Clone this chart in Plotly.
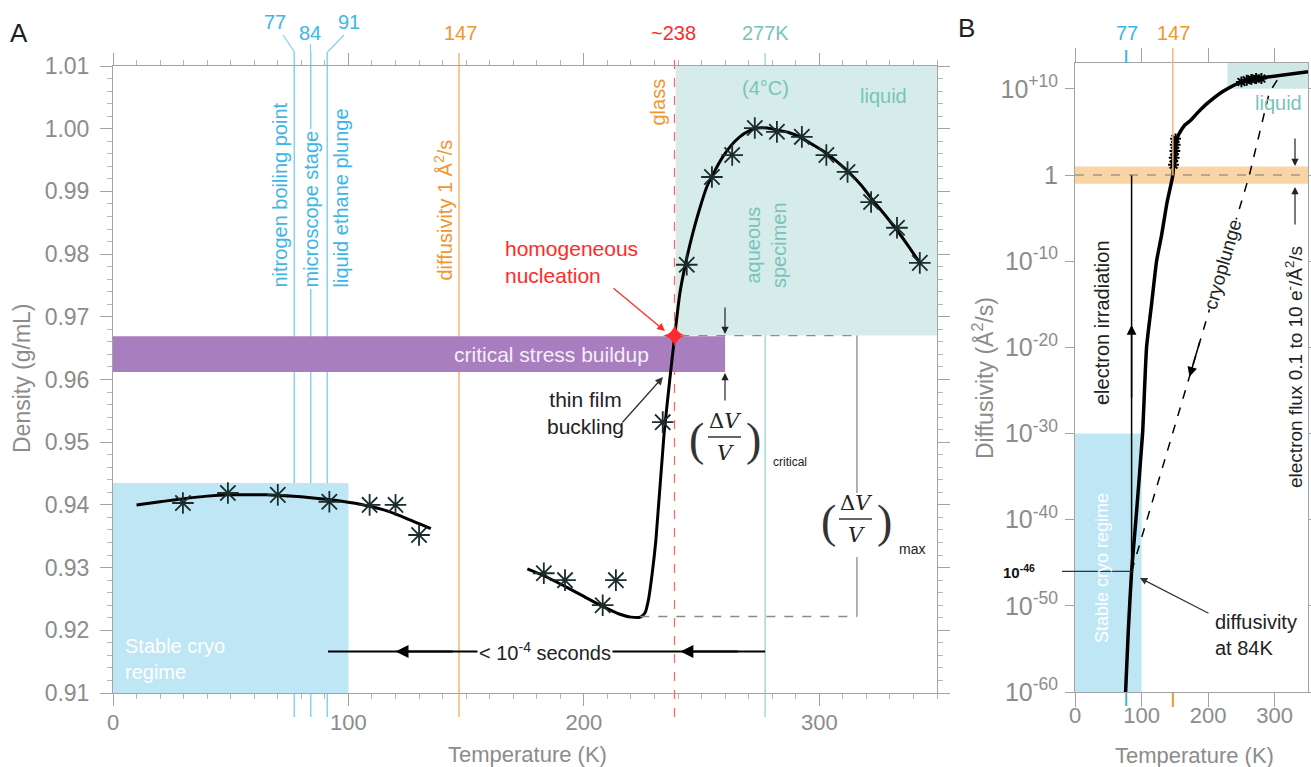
import plotly.graph_objects as go

W, H = 1311, 767

# ---------------- DATA ----------------
# Panel A: density vs temperature
a_left_T = [10, 20, 28, 40, 50, 65, 75, 85, 95, 105, 115, 123, 130, 135]
a_left_rho = [0.9400, 0.9405, 0.9409, 0.9414, 0.9416, 0.9416, 0.9414, 0.9411, 0.9407,
              0.9401, 0.9392, 0.9381, 0.9370, 0.9362]
a_left_mark_T = [29.7, 48.8, 70, 91.9, 109, 120, 130]
a_left_mark_rho = [0.9403, 0.9419, 0.9416, 0.9405, 0.9400, 0.9400, 0.9352]

a_right_T = [176, 183, 192, 200, 208, 215, 220, 224, 226, 227.5, 229, 230.6, 234, 236.5,
             238.6, 240.8, 243.5, 246.3, 249, 252.2, 255.5, 259, 262.5, 266.2, 270, 273.5,
             278, 282, 287, 291.7, 297, 303, 308, 313, 318, 322.7, 328, 333, 338, 342.7]
a_right_rho = [0.9298, 0.9287, 0.9270, 0.9254, 0.9238, 0.9226, 0.9221, 0.9221, 0.9228,
               0.9250, 0.9290, 0.9344, 0.9510, 0.9600, 0.9670, 0.9738, 0.9790, 0.9834,
               0.9870, 0.9907, 0.9932, 0.9955, 0.9973, 0.9987, 0.9996, 1.0001, 1.0001,
               0.9998, 0.9994, 0.9987, 0.9975, 0.9961, 0.9946, 0.9929, 0.9909, 0.9886,
               0.9862, 0.9838, 0.9812, 0.9786]
a_right_mark_T = [183, 192, 208, 213.6, 233.5, 243.7, 254.4, 263, 272.6, 282, 292.6, 303,
                  312, 322, 333, 342.7]
a_right_mark_rho = [0.9291, 0.9280, 0.9240, 0.9280, 0.9532, 0.9783, 0.9923, 0.9958, 1.0001,
                    0.9995, 0.9987, 0.9958, 0.9931, 0.9883, 0.9842, 0.9786]
nucleation_T = [238.6]
nucleation_rho = [0.967]

blue_T = [77, 84, 91]
blue_labels = ["77", "84", "91"]
T_diff1 = 147
T_glass = 238.5
T_4C = 277
stress_T_max = 260
stress_rho = [0.9612, 0.9669]
cryo_rect = [0, 100, 0.91, 0.9435]
liquid_rect_A = [239, 350, 0.967, 1.01]
dv_crit_rho = 0.967
dv_min_rho = 0.9222
dv_T = 316
seconds_T = [91.3, 277]
seconds_rho = 0.9166

# Panel B: diffusivity (log10 of A^2/s) vs temperature
b_curve_T = [76, 80, 85, 91.5, 101.5, 107.5, 115, 122.5, 130, 138, 147, 149, 151, 154, 158,
             165, 173, 185, 200, 222, 252, 292, 350]
b_curve_logD = [-60, -53, -46, -40, -30, -20, -15, -10, -7, -3.3, 0, 2.2, 3.5, 4.4, 5.0,
                5.8, 6.3, 7.3, 8.4, 9.7, 10.9, 11.4, 12.0]
b_mark_T = [148, 149, 150, 150.5, 151, 250, 258, 265, 272, 280]
b_mark_logD = [1.2, 2.0, 2.8, 3.5, 4.2, 10.8, 11.0, 11.1, 11.2, 11.2]
cryo_T = [85, 172, 262, 292, 307]
cryo_logD = [-46, -23.4, 0, 9.6, 11.4]
irr_T = [85, 85]
irr_logD = [-46, 0]
b_ytick_vals = [-60, -50, -40, -30, -20, -10, 0, 10]
b_ytick_text = ["10<sup>-60</sup>", "10<sup>-50</sup>", "10<sup>-40</sup>", "10<sup>-30</sup>",
                "10<sup>-20</sup>", "10<sup>-10</sup>", "1", "10<sup>+10</sup>"]
b_xtick_vals = [0, 100, 200, 300]

# ---------------- helpers ----------------
def PX(x):
    return x / W

def PY(y):
    return 1 - y / H

FONT = "Liberation Sans, Arial, sans-serif"
SERIF = "DejaVu Serif, serif"
GRAY = "#a3a3a3"
TICKC = "#8c8c8c"
BLUE = "#3db6e6"
BLUE_L = "#86d3f0"
ORANGE = "#f0962e"
ORANGE_L = "#f5b772"
RED = "#ff2b2b"
TEAL = "#78c4ba"
TEAL_L = "#a6d9d2"
MARK = "#1c2b2b"

fig = go.Figure()

# Panel A traces
fig.add_trace(go.Scatter(x=a_left_T, y=a_left_rho, mode="lines", line=dict(color="black", width=3, shape="spline"),
                         xaxis="x", yaxis="y", hoverinfo="skip"))
fig.add_trace(go.Scatter(x=a_right_T, y=a_right_rho, mode="lines", line=dict(color="black", width=3, shape="spline", smoothing=0.6),
                         xaxis="x", yaxis="y", hoverinfo="skip"))
fig.add_trace(go.Scatter(x=a_left_mark_T + a_right_mark_T, y=a_left_mark_rho + a_right_mark_rho, mode="markers",
                         marker=dict(symbol="asterisk-open", size=18, color=MARK, line=dict(color=MARK, width=1.8)),
                         xaxis="x", yaxis="y", hoverinfo="skip"))
fig.add_trace(go.Scatter(x=nucleation_T, y=nucleation_rho, mode="markers",
                         marker=dict(symbol="star-diamond", size=16, color=RED),
                         xaxis="x", yaxis="y", hoverinfo="skip"))

# Panel B traces
fig.add_trace(go.Scatter(x=irr_T, y=irr_logD, mode="lines", line=dict(color="black", width=1.5),
                         xaxis="x2", yaxis="y2", hoverinfo="skip"))
fig.add_trace(go.Scatter(x=cryo_T, y=cryo_logD, mode="lines", line=dict(color="black", width=1.5, dash="dash"),
                         xaxis="x2", yaxis="y2", hoverinfo="skip"))
fig.add_trace(go.Scatter(x=b_curve_T, y=b_curve_logD, mode="lines", line=dict(color="black", width=3.5, shape="spline", smoothing=0.5),
                         xaxis="x2", yaxis="y2", hoverinfo="skip"))
fig.add_trace(go.Scatter(x=b_mark_T, y=b_mark_logD, mode="markers",
                         marker=dict(symbol="asterisk-open", size=9, color="black", line=dict(color="black", width=2)),
                         xaxis="x2", yaxis="y2", hoverinfo="skip"))

shapes = []
# ---- Panel A shapes ----
shapes.append(dict(type="rect", xref="x", yref="y", x0=cryo_rect[0], x1=cryo_rect[1], y0=cryo_rect[2], y1=cryo_rect[3],
                   fillcolor="#bee6f5", line=dict(width=0), layer="below"))
shapes.append(dict(type="rect", xref="x", yref="y", x0=liquid_rect_A[0], x1=liquid_rect_A[1], y0=liquid_rect_A[2], y1=liquid_rect_A[3],
                   fillcolor="#d6ecea", line=dict(width=0), layer="below"))
for T in blue_T:
    shapes.append(dict(type="line", xref="x", yref="paper", x0=T, x1=T, y0=PY(717), y1=PY(52),
                       line=dict(color=BLUE_L, width=1.5), layer="below"))
shapes.append(dict(type="line", xref="x", yref="paper", x0=T_diff1, x1=T_diff1, y0=PY(717), y1=PY(53),
                   line=dict(color=ORANGE_L, width=1.5), layer="below"))
shapes.append(dict(type="line", xref="x", yref="paper", x0=T_glass, x1=T_glass, y0=PY(717), y1=PY(52),
                   line=dict(color="#ff6060", width=1.2, dash="dash"), layer="below"))
shapes.append(dict(type="line", xref="x", yref="paper", x0=T_4C, x1=T_4C, y0=PY(717), y1=PY(53),
                   line=dict(color=TEAL_L, width=1.5), layer="below"))
# label connectors
shapes.append(dict(type="line", xref="paper", yref="paper", x0=PX(283), y0=PY(35), x1=PX(294.5), y1=PY(52),
                   line=dict(color=BLUE_L, width=1.3)))
shapes.append(dict(type="line", xref="paper", yref="paper", x0=PX(310.5), y0=PY(44), x1=PX(310.5), y1=PY(53),
                   line=dict(color=BLUE_L, width=1.3)))
shapes.append(dict(type="line", xref="paper", yref="paper", x0=PX(344), y0=PY(35), x1=PX(327.5), y1=PY(52),
                   line=dict(color=BLUE_L, width=1.3)))
# purple stress bar (drawn over the vertical lines)
shapes.append(dict(type="rect", xref="x", yref="y", x0=0, x1=stress_T_max, y0=stress_rho[0], y1=stress_rho[1],
                   fillcolor="#a97ebf", line=dict(width=0), layer="below"))
# dV/V guide lines
shapes.append(dict(type="line", xref="x", yref="y", x0=241, x1=dv_T, y0=dv_crit_rho, y1=dv_crit_rho,
                   line=dict(color="#8a8a8a", width=1.3, dash="dash")))
shapes.append(dict(type="line", xref="x", yref="y", x0=224, x1=dv_T, y0=dv_min_rho, y1=dv_min_rho,
                   line=dict(color="#8a8a8a", width=1.3, dash="dash")))
shapes.append(dict(type="line", xref="x", yref="y", x0=dv_T, x1=dv_T, y0=dv_crit_rho, y1=0.9419,
                   line=dict(color="#8a8a8a", width=1.3)))
shapes.append(dict(type="line", xref="x", yref="y", x0=dv_T, x1=dv_T, y0=0.9317, y1=dv_min_rho,
                   line=dict(color="#8a8a8a", width=1.3)))
# < 1e-4 s line
shapes.append(dict(type="line", xref="x", yref="y", x0=seconds_T[0], x1=seconds_T[1], y0=seconds_rho, y1=seconds_rho,
                   line=dict(color="black", width=2)))
# fraction bars
shapes.append(dict(type="line", xref="paper", yref="paper", x0=PX(708), x1=PX(741), y0=PY(437), y1=PY(437),
                   line=dict(color="#333", width=1.4)))
shapes.append(dict(type="line", xref="paper", yref="paper", x0=PX(839), x1=PX(872), y0=PY(519), y1=PY(519),
                   line=dict(color="#333", width=1.4)))

# ---- Panel B shapes ----
shapes.append(dict(type="rect", xref="x2", yref="y2", x0=0, x1=100, y0=-60, y1=-30,
                   fillcolor="#bee6f5", line=dict(width=0), layer="below"))
shapes.append(dict(type="rect", xref="x2", yref="y2", x0=229, x1=350, y0=10, y1=13,
                   fillcolor="#cfe8e5", line=dict(width=0), layer="below"))
shapes.append(dict(type="rect", xref="x2", yref="y2", x0=0, x1=350, y0=-1, y1=1,
                   fillcolor="#f9d5a5", line=dict(width=0), layer="below"))
shapes.append(dict(type="line", xref="x2", yref="y2", x0=0, x1=350, y0=0, y1=0,
                   line=dict(color="#777", width=1.2, dash="dash")))
shapes.append(dict(type="line", xref="x2", yref="paper", x0=T_diff1, x1=T_diff1, y0=PY(48), y1=PY(175),
                   line=dict(color=ORANGE_L, width=1.5)))
shapes.append(dict(type="line", xref="x2", yref="paper", x0=T_diff1, x1=T_diff1, y0=PY(693), y1=PY(707),
                   line=dict(color=ORANGE, width=2)))
shapes.append(dict(type="line", xref="x2", yref="paper", x0=77, x1=77, y0=PY(50), y1=PY(63),
                   line=dict(color=BLUE, width=2)))
shapes.append(dict(type="line", xref="x2", yref="paper", x0=77, x1=77, y0=PY(693), y1=PY(706),
                   line=dict(color=BLUE, width=2)))
shapes.append(dict(type="line", xref="paper", yref="y2", x0=PX(1062), x1=PX(1075 + 85 * 233 / 350), y0=-46, y1=-46,
                   line=dict(color="#333", width=1.2)))

ann = []
def txt(x, y, s, size=20, color="#222", **kw):
    d = dict(x=PX(x), y=PY(y), xref="paper", yref="paper", text=s, showarrow=False,
             xanchor=kw.pop("xanchor", "center"), yanchor=kw.pop("yanchor", "middle"),
             font=dict(size=size, color=color, family=kw.pop("family", FONT)))
    d.update(kw)
    ann.append(d)

def arrow(tx, ty, fx, fy, color="#222", width=1.3, head=2, size=1.2):
    ann.append(dict(x=PX(tx), y=PY(ty), xref="paper", yref="paper", ax=fx - tx, ay=fy - ty,
                    text="", showarrow=True, arrowhead=head, arrowsize=size, arrowwidth=width,
                    arrowcolor=color))

# panel letters
txt(19, 33, "A", size=26, color="#222")
txt(966, 28, "B", size=26, color="#222")

# Panel A top labels
txt(275, 22, blue_labels[0], size=20, color=BLUE)
txt(310, 33, blue_labels[1], size=20, color=BLUE)
txt(349, 22, blue_labels[2], size=20, color=BLUE)
txt(460, 33, "147", size=20, color=ORANGE)
txt(673, 33, "~238", size=20, color=RED)
txt(765, 33, "277K", size=20, color=TEAL)

# rotated labels
txt(279, 290, "nitrogen boiling point", size=20, color=BLUE, textangle=-90, yanchor="bottom")
txt(310, 290, "microscope stage", size=20, color=BLUE, textangle=-90, yanchor="bottom",
    bgcolor="white", borderpad=1)
txt(340, 290, "liquid ethane plunge", size=20, color=BLUE, textangle=-90, yanchor="bottom")
txt(443, 283, "diffusivity 1 Å<sup>2</sup>/s", size=20, color=ORANGE, textangle=-90, yanchor="bottom")
txt(657, 128, "glass", size=20, color=ORANGE, textangle=-90, yanchor="bottom")
txt(766, 290, "aqueous<br>specimen", size=20, color=TEAL, textangle=-90, yanchor="bottom")
txt(765, 88, "(4°C)", size=20, color=TEAL)
txt(883, 96, "liquid", size=20, color=TEAL)
txt(551, 354, "critical stress buildup", size=21, color="#f4eef7")
txt(503, 262, "homogeneous<br>nucleation", size=21, color=RED, xanchor="left", align="left")
arrow(665, 331, 612, 287, color=RED, width=1.3)
txt(585, 413, "thin film<br>buckling", size=21, color="#222")
arrow(663, 377, 621, 424, color="#333", width=1.3)

# delta V / V critical
txt(697, 439, "(", size=46, color="#333", family="Liberation Serif, serif")
txt(753, 439, ")", size=46, color="#333", family="Liberation Serif, serif")
txt(725, 421, "Δ<i>V</i>", size=21, color="#222", family=SERIF)
txt(725, 453, "<i>V</i>", size=21, color="#222", family=SERIF)
txt(790, 462, "critical", size=12, color="#222")
arrow(725, 334, 725, 306, color="#222", width=1.2)
arrow(725, 373, 725, 402, color="#222", width=1.2)
# delta V / V max
txt(828, 521, "(", size=46, color="#333", family="Liberation Serif, serif")
txt(884, 521, ")", size=46, color="#333", family="Liberation Serif, serif")
txt(856, 503, "Δ<i>V</i>", size=21, color="#222", family=SERIF)
txt(856, 535, "<i>V</i>", size=21, color="#222", family=SERIF)
txt(912, 549, "max", size=14, color="#222")

# seconds arrow
txt(545, 651, "< 10<sup>-4</sup> seconds", size=20, color="#222", bgcolor="white")
ann.append(dict(x=120, y=seconds_rho, xref="x", yref="y", ax=145, ay=seconds_rho, axref="x", ayref="y",
                text="", showarrow=True, arrowhead=2, arrowsize=1.3, arrowwidth=2, arrowcolor="black"))
ann.append(dict(x=241, y=seconds_rho, xref="x", yref="y", ax=266, ay=seconds_rho, axref="x", ayref="y",
                text="", showarrow=True, arrowhead=2, arrowsize=1.3, arrowwidth=2, arrowcolor="black"))
txt(123, 659, "Stable cryo<br>regime", size=20, color="white", xanchor="left", align="left")

# axis titles A
txt(527, 754, "Temperature (K)", size=22, color=TICKC)
txt(22, 378, "Density (g/mL)", size=23, color=TICKC, textangle=-90)

# ---- Panel B annotations ----
txt(1127, 33, "77", size=20, color=BLUE)
txt(1173, 33, "147", size=20, color=ORANGE)
txt(1278, 103, "liquid", size=20, color=TEAL)
txt(1102, 323, "electron irradiation", size=20, color="#222", textangle=-90)
txt(1223, 265, "cryoplunge", size=19, color="#222", textangle=-74, bgcolor="white", borderpad=0)
txt(1294, 367, "electron flux 0.1 to 10 e<sup>-</sup>/Å<sup>2</sup>/s", size=19, color="#222", textangle=-90)
arrow(1295, 166, 1295, 137, color="#222", width=1.2)
arrow(1295, 187, 1295, 226, color="#222", width=1.2)
txt(1213, 635, "diffusivity<br>at 84K", size=20, color="#222", xanchor="left", align="left")
arrow(1140, 578, 1210, 614, color="#333", width=1.2)
txt(1037, 571, "<b>10<sup>-46</sup></b>", size=15, color="#111", xanchor="right")
txt(1102, 568, "Stable cryo regime", size=18, color="white", textangle=-90)
ann.append(dict(x=85, y=-17.4, xref="x2", yref="y2", ax=85, ay=-26, axref="x2", ayref="y2", text="",
                showarrow=True, arrowhead=2, arrowsize=1.3, arrowwidth=1.5, arrowcolor="black"))
ann.append(dict(x=172, y=-23.4, xref="x2", yref="y2", ax=188, ay=-19.2, axref="x2", ayref="y2", text="",
                showarrow=True, arrowhead=2, arrowsize=1.3, arrowwidth=1.5, arrowcolor="black"))
txt(983, 378, "Diffusivity (Å<sup>2</sup>/s)", size=23, color=TICKC, textangle=-90)
txt(1194, 755, "Temperature (K)", size=22, color=TICKC)

axis_common = dict(showline=True, linecolor=GRAY, linewidth=1, mirror="ticks", ticks="outside",
                   tickcolor=GRAY, showgrid=False, zeroline=False, automargin=False,
                   tickfont=dict(size=22, color=TICKC, family=FONT))

fig.update_layout(
    width=W, height=H, autosize=False,
    margin=dict(l=0, r=0, t=0, b=0, pad=0, autoexpand=False),
    paper_bgcolor="white", plot_bgcolor="white",
    showlegend=False,
    font=dict(family=FONT),
    xaxis=dict(domain=[PX(113), PX(937)], range=[0, 350], anchor="y", tick0=0, dtick=100, ticklen=12,
               ticklabelstandoff=-2,
               minor=dict(dtick=10, ticklen=5, ticks="outside", tickcolor="#b5b5b5"), **axis_common),
    yaxis=dict(domain=[PY(693), PY(66)], range=[0.91, 1.01], anchor="x", tick0=0.91, dtick=0.01, tickformat=".2f",
               ticklen=12, ticklabelstandoff=6,
               minor=dict(dtick=0.002, ticklen=5, ticks="outside", tickcolor="#b5b5b5"),
               **{**axis_common, "tickfont": dict(size=23, color=TICKC, family=FONT)}),
    xaxis2=dict(domain=[PX(1075), PX(1308)], range=[0, 350], anchor="y2", tickvals=b_xtick_vals, ticklen=14,
                ticklabelstandoff=-10, **axis_common),
    yaxis2=dict(domain=[PY(692), PY(63)], range=[-60, 13], anchor="x2", tickvals=b_ytick_vals,
                ticktext=b_ytick_text, ticklen=9, ticklabelstandoff=2,
                **{**axis_common, "tickfont": dict(size=25, color=TICKC, family=FONT)}),
    shapes=shapes,
    annotations=ann,
)

fig.write_html("out.html", config={"displayModeBar": False},
               post_script="document.body.style.margin='0px';document.body.style.overflow='hidden';")
